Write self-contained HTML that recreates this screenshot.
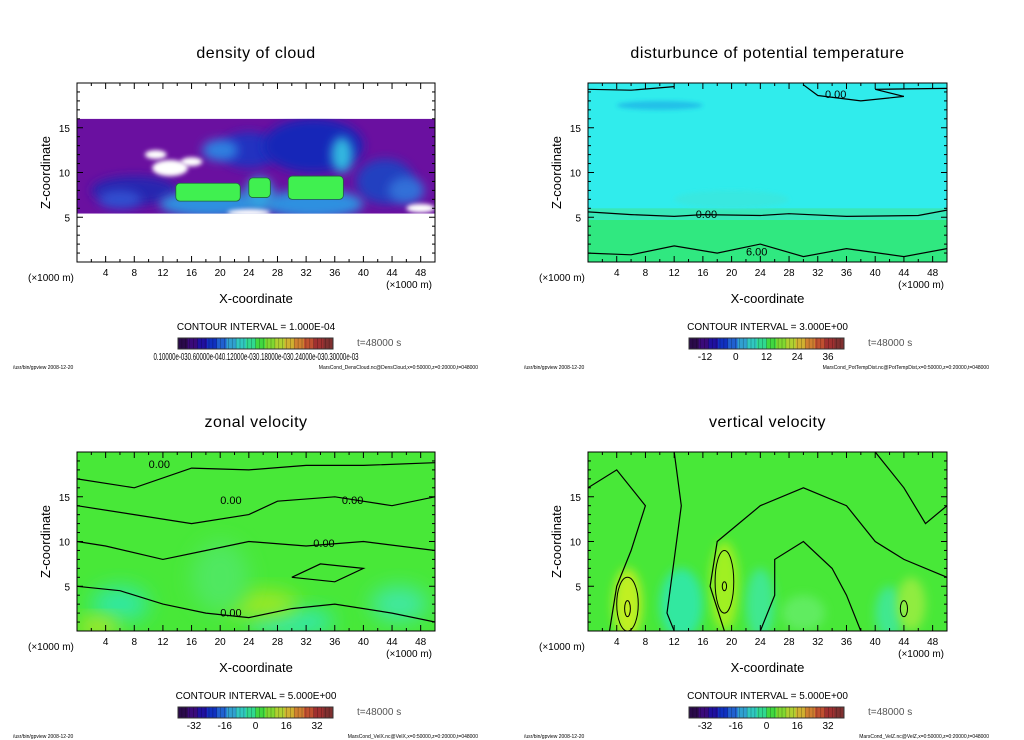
<!DOCTYPE html>
<html><head><meta charset="utf-8"><style>
body{margin:0;background:#fff;}
svg{display:block;font-family:"Liberation Sans",sans-serif;}
</style></head><body>
<svg id="fig" width="1024" height="740" viewBox="0 0 1024 740">
<defs>
<filter id="b6" x="-50%" y="-50%" width="200%" height="200%"><feGaussianBlur stdDeviation="5"/></filter>
<filter id="b3" x="-50%" y="-50%" width="200%" height="200%"><feGaussianBlur stdDeviation="2"/></filter>
<filter id="b10" x="-50%" y="-50%" width="200%" height="200%"><feGaussianBlur stdDeviation="10"/></filter>
</defs>
</svg>
<script>
const xTicks=[4,8,12,16,20,24,28,32,36,40,44,48];
const zTicks=[5,10,15];
const titles=["density of cloud","disturbunce of potential temperature","zonal velocity","vertical velocity"];
const intervals=["CONTOUR INTERVAL = 1.000E-04","CONTOUR INTERVAL = 3.000E+00","CONTOUR INTERVAL = 5.000E+00","CONTOUR INTERVAL = 5.000E+00"];
const barLabels=[["0.10000e-03 0.60000e-04 0.12000e-03 0.18000e-03 0.24000e-03 0.30000e-03"],["-12","0","12","24","36"],["-32","-16","0","16","32"],["-32","-16","0","16","32"]];
const footers=["MarsCond_DensCloud.nc@DensCloud,x=0:50000,z=0:20000,t=048000","MarsCond_PotTempDist.nc@PotTempDist,x=0:50000,z=0:20000,t=048000","MarsCond_VelX.nc@VelX,x=0:50000,z=0:20000,t=048000","MarsCond_VelZ.nc@VelZ,x=0:50000,z=0:20000,t=048000"];
const barColors=["#2a0a4a","#3a0a7a","#2010a0","#1030c0","#2060d0","#30a0d0","#30c8c0","#30d890","#40d840","#80d830","#b0d030","#d0b030","#d08030","#c05030","#a03030","#803030"];
// cloud band extent [x0, z0, x1, z1]
const cloudBand=[0,5.4,50,16];
// blobs: [x, z, rx, rz, color]
const cloudBlobs=[[8,8,6,1.6,"#2828b0"],[24,12.5,4,2,"#2030c0"],[33,13,7,3,"#1828b8"],[43,9,4,2.5,"#2040c0"],[6,7,3,1,"#3050d0"],[46,8,2.5,1.5,"#3070d8"],[18.5,6.5,7,1.5,"#2f90e0"],[33,6.5,7,1.6,"#2f90e0"],[25.5,7.5,2,2,"#30a0e0"],[37,12,1.5,2,"#30b8e0"],[20,12.5,2.5,1.2,"#2f80e0"]];
const cloudGreen=[[13.8,6.8,22.8,8.8],[24,7.2,27,9.4],[29.5,7,37.2,9.6]];
const cloudHoles=[[13,10.5,2.5,0.9],[11,12,1.5,0.5],[16,11.2,1.5,0.5],[48,6,2,0.5],[24,5.5,3,0.4]];
const ptBlobs=[[10,17.5,6,0.5,"#20c0e8"],[20,7,8,1,"#38e8e0"]];
const ptLevels=[4.7,6.0];
const uBlobs=[[6,3,4,2,"#30e8a0"],[30,1,6,1.5,"#30e8b0"],[45,3,4,2,"#40e8a0"],[26,3,5,1.5,"#a0e820"],[3,0.5,3,1,"#c0e820"],[20,6,4,4,"#50e860"]];
const wBlobs=[[5.5,3,2,4,"#c0f020"],[19,5,2,5,"#a0f020"],[13,3,3,4,"#30e8a0"],[24,3,2,4,"#40e890"],[42,2,2,3,"#40e890"],[30,2,3,2,"#60ec60"],[45,3,2,3,"#90ec40"]];
const ptContours=[[[0,5.6],[6,5.3],[12,5.1],[16,5.3],[24,5.2],[28,5.4],[36,5.1],[46,5.2],[50,5.8]],[[0,1],[6,0.8],[12,1.8],[18,1],[24,2],[30,0.6],[36,1.5],[44,0.6],[50,1.5]],[[0,19.3],[6,19.2],[12,19.6]],[[30,19.8],[32,18.6],[38,18],[44,18.5],[40,19.3],[50,19.4]]];
const uContours=[[[0,17],[8,16],[16,18.2],[24,18],[32,18.5],[40,18.5],[50,18.8]],[[0,14],[8,13],[16,12],[24,13],[28,14.5],[36,15],[44,14],[50,15]],[[0,10],[4,9.5],[12,8],[18,9],[24,10],[32,9.5],[40,10],[50,9]],[[0,5],[6,4.5],[12,3],[18,2],[24,1.5],[30,2.5],[36,3],[44,2],[50,1]],[[30,6],[34,7.5],[40,7],[36,5.5],[30,6]]];
const wContours=[[[12,20],[13,14],[12,8],[11,2],[12,0]],[[19,0],[17,5],[18,10],[24,14],[30,16],[36,14],[40,10],[44,8],[50,6]],[[3,0],[4,5],[6,9],[8,14],[4,18],[0,16]],[[24,0],[26,4],[26,8],[30,10],[34,7],[36,4],[38,0]],[[40,20],[44,16],[47,12],[50,14]]];
const wOvals=[[5.5,2.5,0.4,0.9],[19,5,0.3,0.5],[44,2.5,0.5,0.9],[5.5,3,1.5,3],[19,5.5,1.3,3.5]];

const svg=document.getElementById('fig');
const NS="http://www.w3.org/2000/svg";
function mk(tag,attrs,parent){const e=document.createElementNS(NS,tag);for(const k in attrs)e.setAttribute(k,attrs[k]);(parent||svg).appendChild(e);return e;}
const panels=[{x0:77,x1:435,y0:83,y1:262},{x0:588,x1:947,y0:83,y1:262},{x0:77,x1:435,y0:452,y1:631},{x0:588,x1:947,y0:452,y1:631}];
function sx(p,x){return p.x0+x/50*(p.x1-p.x0);}
function sz(p,z){return p.y1-z/20*(p.y1-p.y0);}
function pathOf(p,pts){return pts.map((q,i)=>(i?'L':'M')+sx(p,q[0]).toFixed(1)+' '+sz(p,q[1]).toFixed(1)).join(' ');}
function ell(p,b,g,filt){const e=mk('ellipse',{cx:sx(p,b[0]),cy:sz(p,b[1]),rx:b[2]/50*(p.x1-p.x0),ry:b[3]/20*(p.y1-p.y0),fill:b[4],filter:filt},g);return e;}
function txt(s,x,y,size,anchor,g,extra){const t=mk('text',Object.assign({x:x,y:y,'font-size':size,'text-anchor':anchor||'start',fill:'#000'},extra||{}),g);t.textContent=s;return t;}
const defs=svg.querySelector('defs');

panels.forEach((p,i)=>{
  const g=mk('g',{});
  
  
  const cid='clip'+i;
  const cp=mk('clipPath',{id:cid},defs);
  mk('rect',{x:p.x0,y:p.y0,width:p.x1-p.x0,height:p.y1-p.y0},cp);
  const plot=mk('g',{'clip-path':'url(#'+cid+')'},g);
  
  
  if(i===0){
    mk('rect',{x:p.x0,y:p.y0,width:p.x1-p.x0,height:p.y1-p.y0,fill:'#fff'},plot);
    const bcp=mk('clipPath',{id:'bandclip'},defs);
    const bx0=sx(p,cloudBand[0]),by0=sz(p,cloudBand[3]),bw=sx(p,cloudBand[2])-bx0,bh=sz(p,cloudBand[1])-by0;
    mk('rect',{x:bx0,y:by0,width:bw,height:bh},bcp);
    const band=mk('g',{'clip-path':'url(#bandclip)'},plot);
    
    
    mk('rect',{x:bx0,y:by0,width:bw,height:bh,fill:'#6a10a0'},band);
    cloudBlobs.forEach(bb=>ell(p,bb,band,'url(#b6)'));
    cloudGreen.forEach(r=>{const e=mk('rect',{x:sx(p,r[0]),y:sz(p,r[3]),width:sx(p,r[2])-sx(p,r[0]),height:sz(p,r[1])-sz(p,r[3]),fill:'#40f050',stroke:'#206040','stroke-width':0.8,rx:4},band);});
    cloudHoles.forEach(h=>ell(p,[h[0],h[1],h[2],h[3],'#fff'],band,'url(#b3)'));
  } else if(i===1){
    mk('rect',{x:p.x0,y:p.y0,width:p.x1-p.x0,height:p.y1-p.y0,fill:'#30ecec'},plot);
    mk('rect',{x:p.x0,y:sz(p,ptLevels[0]),width:p.x1-p.x0,height:p.y1-sz(p,ptLevels[0]),fill:'#30e880'},plot);
    mk('rect',{x:p.x0,y:sz(p,ptLevels[1]),width:p.x1-p.x0,height:sz(p,ptLevels[0])-sz(p,ptLevels[1]),fill:'#38e8b8'},plot);
    ptBlobs.forEach(b=>ell(p,b,plot,'url(#b3)'));
    ptContours.forEach(c=>{const e=mk('path',{d:pathOf(p,c),fill:'none',stroke:'#000','stroke-width':1.2},plot);});
    txt('0.00',sx(p,33),sz(p,18.3),11,'start',plot);txt('0.00',sx(p,15),sz(p,4.9),11,'start',plot);txt('6.00',sx(p,22),sz(p,0.7),11,'start',plot);
  } else if(i===2){
    mk('rect',{x:p.x0,y:p.y0,width:p.x1-p.x0,height:p.y1-p.y0,fill:'#48e838'},plot);
    uBlobs.forEach(b=>ell(p,b,plot,'url(#b10)'));
    uContours.forEach(c=>{const e=mk('path',{d:pathOf(p,c),fill:'none',stroke:'#000','stroke-width':1.2},plot);});
    txt('0.00',sx(p,10),sz(p,18.2),11,'start',plot);txt('0.00',sx(p,20),sz(p,14.2),11,'start',plot);txt('0.00',sx(p,37),sz(p,14.2),11,'start',plot);txt('0.00',sx(p,33),sz(p,9.4),11,'start',plot);txt('0.00',sx(p,20),sz(p,1.6),11,'start',plot);
  } else {
    mk('rect',{x:p.x0,y:p.y0,width:p.x1-p.x0,height:p.y1-p.y0,fill:'#48e838'},plot);
    wBlobs.forEach(b=>ell(p,b,plot,'url(#b6)'));
    wContours.forEach(c=>{const e=mk('path',{d:pathOf(p,c),fill:'none',stroke:'#000','stroke-width':1.2},plot);});
    wOvals.forEach(o=>{const e=mk('ellipse',{cx:sx(p,o[0]),cy:sz(p,o[1]),rx:o[2]/50*(p.x1-p.x0),ry:o[3]/20*(p.y1-p.y0),fill:'none',stroke:'#000','stroke-width':1},plot);});
  }
  mk('rect',{x:p.x0,y:p.y0,width:p.x1-p.x0,height:p.y1-p.y0,fill:'none',stroke:'#000','stroke-width':1},g);
  for(let x=2;x<50;x+=2){const L=(x%4===0)?6:3;mk('line',{x1:sx(p,x),x2:sx(p,x),y1:p.y1,y2:p.y1-L,stroke:'#000'},g);mk('line',{x1:sx(p,x),x2:sx(p,x),y1:p.y0,y2:p.y0+L,stroke:'#000'},g);}
  for(let z=1;z<20;z++){const L=(z%5===0)?6:3;mk('line',{x1:p.x0,x2:p.x0+L,y1:sz(p,z),y2:sz(p,z),stroke:'#000'},g);mk('line',{x1:p.x1,x2:p.x1-L,y1:sz(p,z),y2:sz(p,z),stroke:'#000'},g);}
  xTicks.forEach(v=>{const t=txt(String(v),sx(p,v),p.y1+14,10,'middle',g);});
  zTicks.forEach(v=>{const t=txt(String(v),p.x0-7,sz(p,v)+4,10,'end',g);});
  const cx=(p.x0+p.x1)/2;
  const tt=txt(titles[i],cx,p.y0-25,16,'middle',g,{'letter-spacing':'0.5'});
  txt('(×1000 m)',p.x0-49,p.y1+19,10,'start',g);
  txt('(×1000 m)',p.x1-3,p.y1+26,10,'end',g);
  const xt=txt('X-coordinate',cx,p.y1+41,13,'middle',g);
  const zt=txt('Z-coordinate',0,0,13,'middle',g,{transform:'translate('+(p.x0-27)+','+((p.y0+p.y1)/2)+') rotate(-90)'});
  const ci=txt(intervals[i],cx,p.y1+68,10,'middle',g);
  const bx=p.x0+101,bw=155,by=p.y1+76,bh=11;
  const bar=mk('g',{},g);
  barColors.forEach((c,k)=>{mk('rect',{x:bx+k*bw/barColors.length,y:by,width:bw/barColors.length+0.3,height:bh,fill:c},bar);});
  for(let k=0;k<40;k++)mk('line',{x1:bx+k*bw/40,x2:bx+k*bw/40,y1:by,y2:by+bh,stroke:'rgba(0,0,0,0.35)','stroke-width':0.6},bar);
  mk('rect',{x:bx,y:by,width:bw,height:bh,fill:'none',stroke:'#333'},bar);
  if(i===0){txt(barLabels[0][0].replace(/ /g,''),cx,by+22,10,'middle',g,{textLength:205,lengthAdjust:'spacingAndGlyphs'});}
  else{barLabels[i].forEach((l,k)=>{txt(l,bx+16+k*(bw-32)/(barLabels[i].length-1),by+22,10,'middle',g);});}
  txt('t=48000 s',p.x0+280,by+8,10,'start',g,{fill:'#555'});
  txt('/usr/bin/gpview   2008-12-20',p.x0-64,p.y1+107,5,'start',g);
  txt(footers[i],p.x0+401,p.y1+107,5,'end',g);
});
</script>
</body></html>
